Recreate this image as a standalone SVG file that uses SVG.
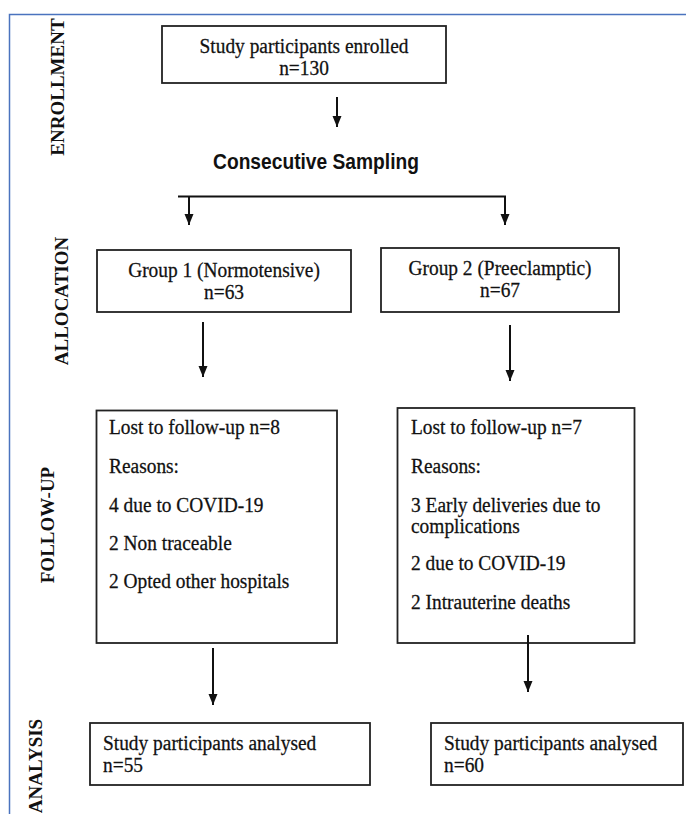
<svg xmlns="http://www.w3.org/2000/svg" width="686" height="814" viewBox="0 0 686 814">
<style>
.box{fill:#fff;stroke:#222;stroke-width:1.8}
.t{font-family:"Liberation Serif","Times New Roman",serif;font-size:19.4px;fill:#111;stroke:#111;stroke-width:0.25}
.c{text-anchor:middle}
.lab{font-family:"Liberation Serif","Times New Roman",serif;font-size:19px;font-weight:bold;fill:#111;text-anchor:middle}
.cs{font-family:"Liberation Sans",Arial,sans-serif;font-size:19.2px;font-weight:bold;fill:#111;text-anchor:middle}
.ln{stroke:#111;stroke-width:2;fill:none}
.ar{stroke:#111;stroke-width:2;fill:none;marker-end:url(#ah)}
</style>
<defs>
<marker id="ah" markerUnits="userSpaceOnUse" markerWidth="12" markerHeight="12" viewBox="0 0 12 12" refX="11" refY="6" orient="auto">
<path d="M0,1.5 L11,6 L0,10.5 Z" fill="#111"/>
</marker>
</defs>
<rect width="686" height="814" fill="#fff"/>
<path d="M9.5,814 V14.5 H686" fill="none" stroke="#4a73be" stroke-width="1.5"/>

<g id="labels">
<text class="lab" transform="translate(63.5 87) rotate(-90)">ENROLLMENT</text>
<text class="lab" transform="translate(67.5 301) rotate(-90)">ALLOCATION</text>
<text class="lab" transform="translate(54 525) rotate(-90)">FOLLOW-UP</text>
<text class="lab" transform="translate(42 766) rotate(-90)">ANALYSIS</text>
</g>

<g id="enrolled">
<rect class="box" x="162" y="26" width="284" height="57"/>
<text class="t c" transform="translate(304 53) scale(1 1.13)">Study participants enrolled</text>
<text class="t c" transform="translate(304 75) scale(1 1.13)">n=130</text>
</g>

<g id="sampling">
<text class="cs" transform="translate(316 169) scale(1 1.15)">Consecutive Sampling</text>
</g>

<g id="group1">
<rect class="box" x="97" y="250" width="254" height="62"/>
<text class="t c" transform="translate(224 277) scale(1 1.13)">Group 1 (Normotensive)</text>
<text class="t c" transform="translate(224 299) scale(1 1.13)">n=63</text>
</g>

<g id="group2">
<rect class="box" x="381" y="248" width="238" height="64"/>
<text class="t c" transform="translate(500 275) scale(1 1.13)">Group 2 (Preeclamptic)</text>
<text class="t c" transform="translate(500 297) scale(1 1.13)">n=67</text>
</g>

<g id="followup1">
<rect class="box" x="96.5" y="410.5" width="240.5" height="232.5"/>
<text class="t" transform="translate(109 434) scale(1 1.13)">Lost to follow-up n=8</text>
<text class="t" transform="translate(109 473) scale(1 1.13)">Reasons:</text>
<text class="t" transform="translate(109 512) scale(1 1.13)">4 due to COVID-19</text>
<text class="t" transform="translate(109 550) scale(1 1.13)">2 Non traceable</text>
<text class="t" transform="translate(109 588) scale(1 1.13)">2 Opted other hospitals</text>
</g>

<g id="followup2">
<rect class="box" x="397.5" y="408" width="237" height="235"/>
<text class="t" transform="translate(411 434) scale(1 1.13)">Lost to follow-up n=7</text>
<text class="t" transform="translate(411 473) scale(1 1.13)">Reasons:</text>
<text class="t" transform="translate(411 512) scale(1 1.13)">3 Early deliveries due to</text>
<text class="t" transform="translate(411 533) scale(1 1.13)">complications</text>
<text class="t" transform="translate(411 570) scale(1 1.13)">2 due to COVID-19</text>
<text class="t" transform="translate(411 609) scale(1 1.13)">2 Intrauterine deaths</text>
</g>

<g id="analysis1">
<rect class="box" x="90" y="723" width="280" height="62"/>
<text class="t" transform="translate(103 750) scale(1 1.13)">Study participants analysed</text>
<text class="t" transform="translate(103 772) scale(1 1.13)">n=55</text>
</g>

<g id="analysis2">
<rect class="box" x="431" y="723" width="252" height="62"/>
<text class="t" transform="translate(444 750) scale(1 1.13)">Study participants analysed</text>
<text class="t" transform="translate(444 772) scale(1 1.13)">n=60</text>
</g>

<g id="connectors">
<line class="ar" x1="337" y1="97" x2="337" y2="127"/>
<line class="ln" x1="178" y1="196.5" x2="506" y2="196.5"/>
<line class="ar" x1="189" y1="196" x2="189" y2="225"/>
<line class="ar" x1="505" y1="196" x2="505" y2="225"/>
<line class="ar" x1="203" y1="322" x2="203" y2="377"/>
<line class="ar" x1="510" y1="325" x2="510" y2="381"/>
<line class="ar" x1="213" y1="648" x2="213" y2="705"/>
<line class="ar" x1="528" y1="635" x2="528" y2="692"/>
</g>
</svg>
